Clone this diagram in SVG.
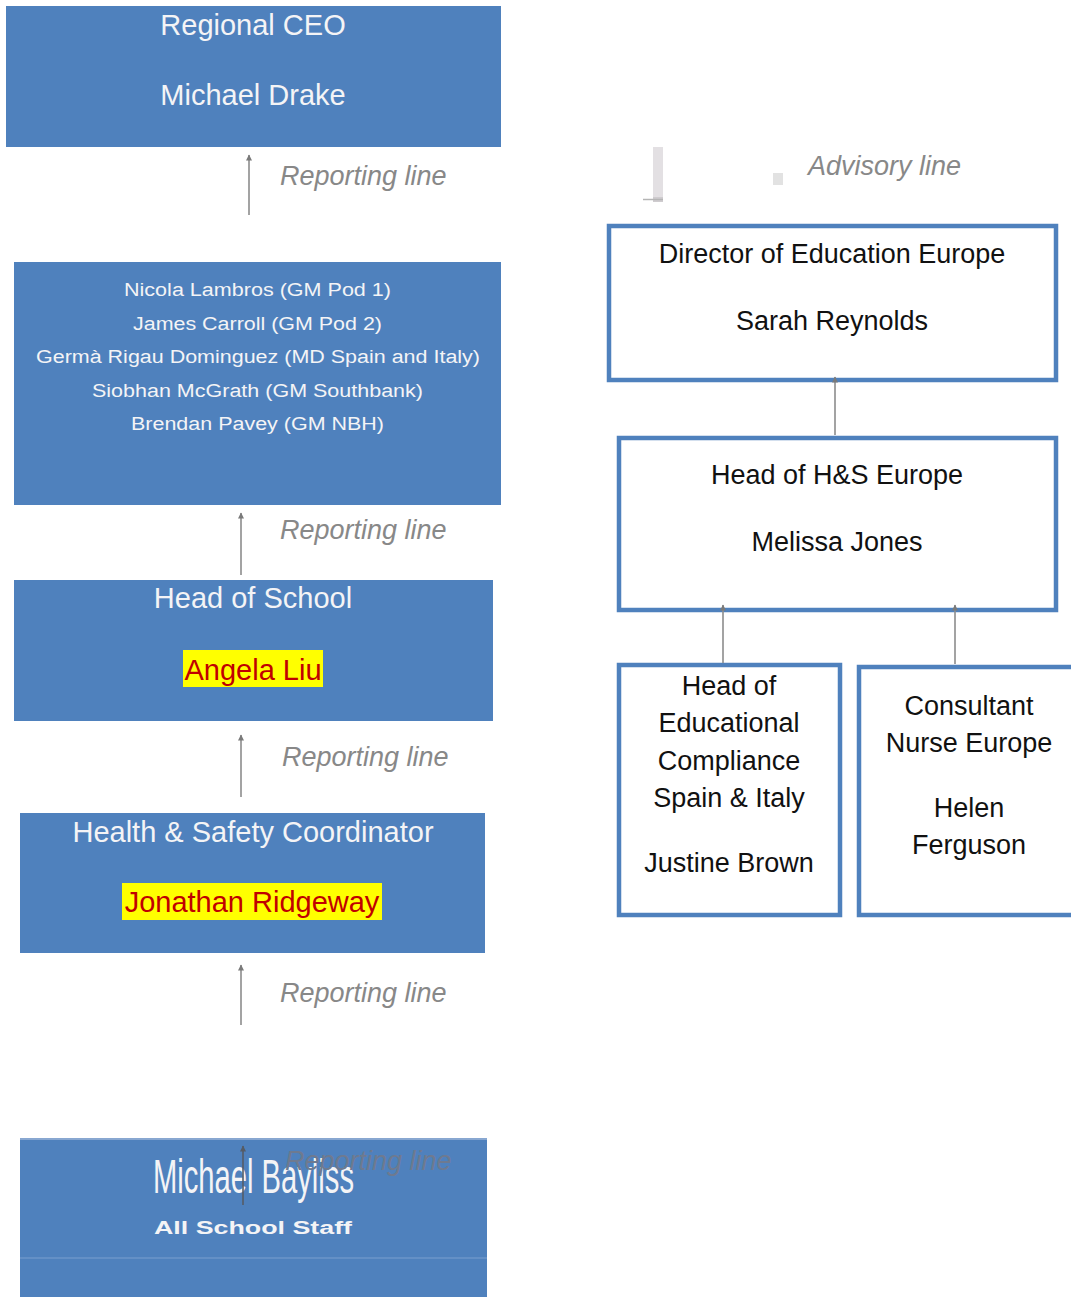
<svg xmlns="http://www.w3.org/2000/svg" width="1071" height="1297" viewBox="0 0 1071 1297">
<defs>
<style>
.blue{fill:#4f81bd;}
.wbox{fill:#ffffff;stroke:#4f81bd;stroke-width:4.5;}
.wt{font-family:"Liberation Sans",Arial,sans-serif;fill:#f4f4f6;text-anchor:middle;}
.bt{font-family:"Liberation Sans",Arial,sans-serif;fill:#111111;text-anchor:middle;font-size:27px;}
.big{font-size:29px;}
.small{font-size:18px;}
.hl{fill:#ffff00;}
.red{font-family:"Liberation Sans",Arial,sans-serif;fill:#c00000;text-anchor:middle;font-size:29px;}
.lbl{font-family:"Liberation Sans",Arial,sans-serif;font-style:italic;font-size:27px;fill:#888888;}
.con{stroke:#8c8c8c;stroke-width:1.6;fill:none;marker-end:url(#ah);}
</style>
<marker id="ah" viewBox="0 0 10 10" refX="9" refY="5" markerWidth="7" markerHeight="6" markerUnits="userSpaceOnUse" orient="auto">
<path d="M0,0 L10,5 L0,10 Z" fill="#7a7a7a"/>
</marker>
<marker id="ah2" viewBox="0 0 10 10" refX="9" refY="5" markerWidth="7" markerHeight="6" markerUnits="userSpaceOnUse" orient="auto">
<path d="M0,0 L10,5 L0,10 Z" fill="#555c66"/>
</marker>
</defs>

<g id="labels">
<text class="lbl" x="280" y="185">Reporting line</text>
<text class="lbl" x="280" y="539">Reporting line</text>
<text class="lbl" x="282" y="766">Reporting line</text>
<text class="lbl" x="280" y="1002">Reporting line</text>
</g>

<g id="advisory-legend">
<rect x="653" y="147" width="10" height="55" fill="#e3e0e3"/>
<rect x="653" y="197" width="10" height="5" fill="#cfcccf"/>
<line x1="643" y1="199.5" x2="663" y2="199.5" stroke="#b5b5b5" stroke-width="1.5"/>
<rect x="773" y="173" width="10" height="12" fill="#e2e2e2"/>
<text class="lbl" x="808" y="175">Advisory line</text>
</g>

<g id="node-ceo">
<rect class="blue" x="6" y="6" width="495" height="141"/>
<text class="wt big" x="253" y="35">Regional CEO</text>
<text class="wt big" x="253" y="105">Michael Drake</text>
</g>

<g id="node-gms">
<rect class="blue" x="14" y="262" width="487" height="243"/>
<text class="wt small" x="257.5" y="296" textLength="267" lengthAdjust="spacingAndGlyphs">Nicola Lambros (GM Pod 1)</text>
<text class="wt small" x="257.5" y="330" textLength="249" lengthAdjust="spacingAndGlyphs">James Carroll (GM Pod 2)</text>
<text class="wt small" x="258" y="363" textLength="444" lengthAdjust="spacingAndGlyphs">Germà Rigau Dominguez (MD Spain and Italy)</text>
<text class="wt small" x="257.5" y="397" textLength="331" lengthAdjust="spacingAndGlyphs">Siobhan McGrath (GM Southbank)</text>
<text class="wt small" x="257.5" y="430" textLength="253" lengthAdjust="spacingAndGlyphs">Brendan Pavey (GM NBH)</text>
</g>

<g id="node-head-school">
<rect class="blue" x="14" y="580" width="479" height="141"/>
<text class="wt big" x="253" y="608">Head of School</text>
<rect class="hl" x="183" y="650" width="140" height="37"/>
<text class="red" x="253" y="680">Angela Liu</text>
</g>

<g id="node-hs-coord">
<rect class="blue" x="20" y="813" width="465" height="140"/>
<text class="wt big" x="253" y="842">Health &amp; Safety Coordinator</text>
<rect class="hl" x="122" y="883" width="260" height="37"/>
<text class="red" x="252" y="912">Jonathan Ridgeway</text>
</g>

<g id="node-staff">
<rect class="blue" x="20" y="1138" width="467" height="159"/>
<line x1="20" y1="1139" x2="487" y2="1139" stroke="#9bb5d8" stroke-width="1.5"/>
<line x1="20" y1="1258" x2="487" y2="1258" stroke="#7b9fcf" stroke-width="1"/>
<text class="wt" x="253.5" y="1193" font-size="49" textLength="201" lengthAdjust="spacingAndGlyphs">Michael Bayliss</text>
<text class="wt" x="253" y="1234" font-size="18" font-weight="bold" textLength="198" lengthAdjust="spacingAndGlyphs">All School Staff</text>
<line x1="243" y1="1205" x2="243" y2="1146" stroke="#555c66" stroke-width="1.6" marker-end="url(#ah2)"/>
<text class="lbl" x="285" y="1170" style="fill:#6e7a90">Reporting line</text>
</g>

<g id="node-dir-edu">
<rect class="wbox" x="609" y="226" width="447" height="154"/>
<text class="bt" x="832" y="263">Director of Education Europe</text>
<text class="bt" x="832" y="330">Sarah Reynolds</text>
</g>

<g id="node-head-hs">
<rect class="wbox" x="619" y="438" width="437" height="172"/>
<text class="bt" x="837" y="484">Head of H&amp;S Europe</text>
<text class="bt" x="837" y="551">Melissa Jones</text>
</g>

<g id="node-compliance">
<rect class="wbox" x="619" y="665" width="221" height="250"/>
<text class="bt" x="729" y="695">Head of</text>
<text class="bt" x="729" y="732">Educational</text>
<text class="bt" x="729" y="770">Compliance</text>
<text class="bt" x="729" y="807">Spain &amp; Italy</text>
<text class="bt" x="729" y="872">Justine Brown</text>
</g>

<g id="node-nurse">
<rect class="wbox" x="859" y="667" width="230" height="248"/>
<text class="bt" x="969" y="715">Consultant</text>
<text class="bt" x="969" y="752">Nurse Europe</text>
<text class="bt" x="969" y="817">Helen</text>
<text class="bt" x="969" y="854">Ferguson</text>
</g>

<g id="connectors">
<line class="con" x1="249" y1="215" x2="249" y2="155"/>
<line class="con" x1="241" y1="575" x2="241" y2="513"/>
<line class="con" x1="241" y1="797" x2="241" y2="735"/>
<line class="con" x1="241" y1="1025" x2="241" y2="965"/>
<line class="con" x1="835" y1="435" x2="835" y2="377"/>
<line class="con" x1="723" y1="663" x2="723" y2="605"/>
<line class="con" x1="955" y1="664" x2="955" y2="605"/>
</g>
</svg>
